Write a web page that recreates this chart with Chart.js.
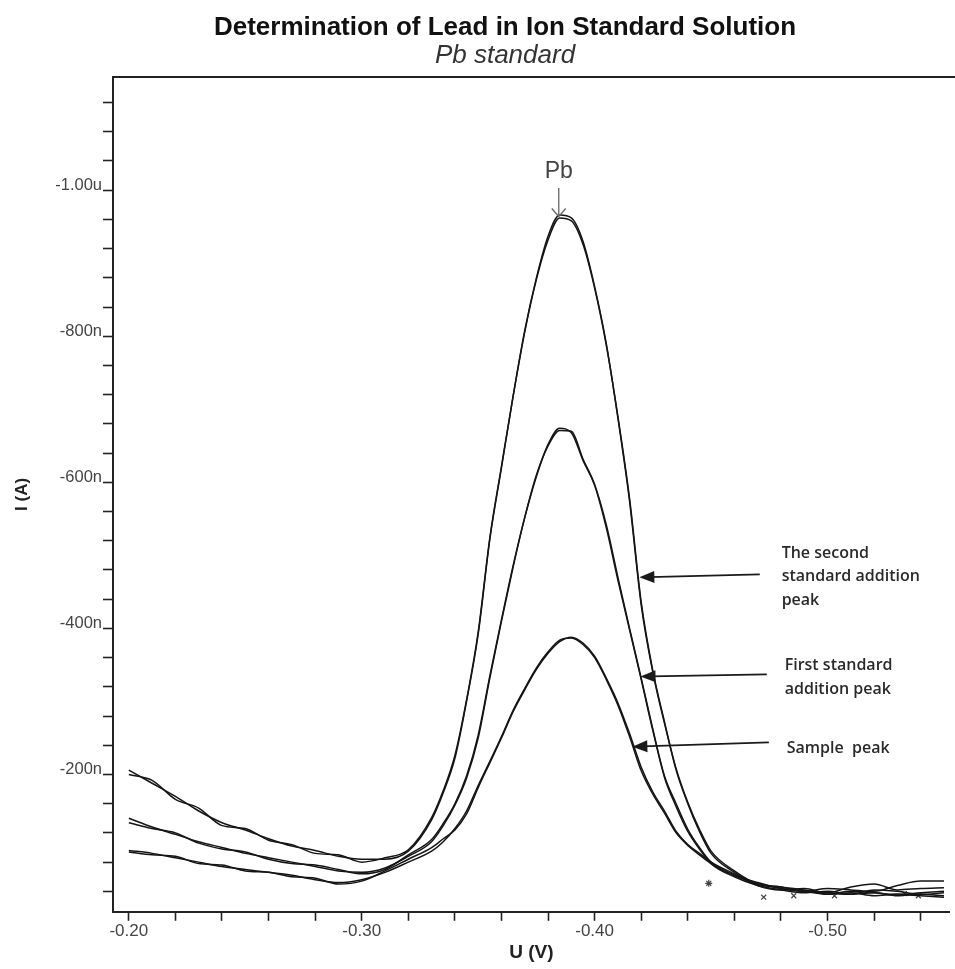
<!DOCTYPE html>
<html>
<head>
<meta charset="utf-8">
<title>Determination of Lead in Ion Standard Solution</title>
<script src="https://cdn.jsdelivr.net/npm/chart.js@4.4.1/dist/chart.umd.min.js"></script>
<style>
  html, body { margin: 0; padding: 0; background: #fff; overflow: hidden; }
</style>
</head>
<body>
<canvas id="pb-canvas" width="955" height="969"></canvas>
<script>
  // Potential axis (V), sampled finer across the Pb peak
  let voltage = [-0.20, -0.21, -0.22, -0.23, -0.24, -0.25, -0.26, -0.27, -0.28, -0.29, -0.30, -0.31, -0.32, -0.33,
    -0.335, -0.34, -0.345, -0.35, -0.355, -0.36, -0.365, -0.37, -0.375, -0.38, -0.385, -0.39, -0.395, -0.40,
    -0.405, -0.41, -0.415, -0.42, -0.425, -0.43, -0.435, -0.44, -0.445,
    -0.45, -0.46, -0.47, -0.48, -0.49, -0.50, -0.51, -0.52, -0.53, -0.54, -0.55];

  // Currents in nA (read as magnitudes, plotted negative), two runs per solution
  let second_run1 = [206, 188, 170, 150, 134, 124, 112, 102, 96, 88, 84, 84, 95, 138,
    175, 222, 300, 392, 522, 620, 718, 808, 880, 937, 966, 962, 930, 868, 790, 688, 574, 432, 340, 270, 208, 162, 125,
    95, 68, 50, 46, 40, 44, 42, 40, 48, 54, 54];
  let second_run2 = [200, 192, 166, 154, 130, 126, 110, 104, 92, 90, 80, 86, 97, 141,
    178, 226, 302, 395, 524, 622, 718, 806, 878, 932, 962, 958, 926, 866, 788, 690, 578, 436, 342, 272, 206, 160, 122,
    92, 66, 48, 42, 44, 38, 46, 50, 42, 44, 45];

  let first_run1 = [140, 128, 118, 108, 100, 92, 86, 80, 74, 68, 66, 72, 88, 108,
    130, 158, 195, 250, 332, 410, 484, 552, 610, 650, 671, 670, 632, 597, 542, 470, 400, 332, 262, 198, 160, 125, 100,
    80, 62, 50, 44, 40, 36, 40, 38, 36, 38, 40];
  let first_run2 = [134, 126, 120, 106, 98, 94, 84, 78, 76, 70, 64, 70, 90, 111,
    133, 160, 198, 254, 335, 412, 486, 552, 608, 652, 674, 668, 630, 596, 538, 466, 398, 330, 260, 196, 156, 122, 98,
    78, 60, 48, 42, 38, 40, 36, 42, 40, 36, 38];

  let sample_run1 = [96, 92, 86, 80, 74, 70, 66, 62, 56, 52, 56, 66, 80, 95,
    108, 126, 150, 185, 218, 252, 288, 318, 346, 368, 384, 387, 378, 360, 330, 295, 252, 205, 173, 147, 120, 103, 90,
    78, 62, 52, 44, 40, 38, 36, 38, 34, 36, 34];
  let sample_run2 = [94, 90, 88, 78, 76, 68, 66, 60, 58, 50, 54, 68, 84, 100,
    112, 124, 146, 182, 216, 250, 286, 316, 344, 366, 382, 388, 380, 362, 332, 298, 256, 210, 176, 150, 122, 104, 92,
    80, 64, 50, 46, 42, 36, 38, 34, 36, 34, 32];

  // Stray instrument markers on the baseline
  let star_v = [-0.449];
  let star_i = [-51];
  let cross_v = [-0.4726, -0.4855, -0.503, -0.533, -0.539];
  let cross_i = [-32, -34, -34, -37, -34];

  // Callouts (data coordinates)
  let callout_text = [["The second", "standard addition", "peak"], ["First standard", "addition peak"], ["Sample  peak"]];
  let callout_text_v = [-0.4803, -0.4816, -0.4825];
  let callout_text_i = [-503, -349, -236];
  let callout_tail_v = [-0.4709, -0.4739, -0.4748];
  let callout_tail_i = [-474, -337, -244];
  let callout_tip_v = [-0.4192, -0.4197, -0.4162];
  let callout_tip_i = [-470, -334, -238];
  let pb_v = -0.3846;
  let pb_label_i = -1025;
  let pb_arrow_i = [-1003, -964];

  let to_points = function(vals) {
    return vals.map((v, i) => ({x: voltage[i], y: -v}));
  };

  let trace = function(vals) {
    return {
      data: to_points(vals),
      borderColor: '#151515',
      borderWidth: 1.5,
      pointRadius: 0,
      fill: false,
      cubicInterpolationMode: 'monotone'
    };
  };

  let markers = function(vs, is, style) {
    return {
      data: vs.map((v, i) => ({x: v, y: is[i]})),
      showLine: false,
      pointStyle: style,
      pointRadius: 3.5,
      borderColor: '#444',
      borderWidth: 1.2,
      backgroundColor: '#444'
    };
  };

  let is_label = function(v, step) {
    let q = v / step;
    return Math.abs(q - Math.round(q)) < 1e-6;
  };

  let fmt_current = function(v) {
    if (!is_label(v, 200) || Math.round(v) === 0) return '';
    if (Math.abs(v) >= 1000) return '-' + (Math.abs(v) / 1000).toFixed(2) + 'u';
    return Math.round(v) + 'n';
  };

  let decor = {
    id: 'decor',
    afterDraw(chart) {
      let ctx = chart.ctx;
      let area = chart.chartArea;
      let xs = chart.scales.x;
      let ys = chart.scales.y;
      ctx.save();

      // top edge of the plot frame
      ctx.strokeStyle = '#222';
      ctx.lineWidth = 2;
      ctx.beginPath();
      ctx.moveTo(area.left, area.top);
      ctx.lineTo(chart.width, area.top);
      ctx.stroke();

      // titles
      ctx.textAlign = 'center';
      ctx.textBaseline = 'middle';
      ctx.fillStyle = '#111';
      ctx.font = 'bold 26px "Liberation Sans", Arial, sans-serif';
      ctx.fillText('Determination of Lead in Ion Standard Solution', 505, 28);
      ctx.fillStyle = '#333';
      ctx.font = 'italic 26px "Liberation Sans", Arial, sans-serif';
      ctx.fillText('Pb standard', 505, 56);

      // callout arrows and text
      ctx.strokeStyle = '#1a1a1a';
      ctx.fillStyle = '#1a1a1a';
      ctx.lineWidth = 1.8;
      for (let k = 0; k < callout_text.length; k++) {
        let x0 = xs.getPixelForValue(callout_tail_v[k]);
        let y0 = ys.getPixelForValue(callout_tail_i[k]);
        let x1 = xs.getPixelForValue(callout_tip_v[k]);
        let y1 = ys.getPixelForValue(callout_tip_i[k]);
        let ang = Math.atan2(y1 - y0, x1 - x0);
        ctx.beginPath();
        ctx.moveTo(x0, y0);
        ctx.lineTo(x1 - 10 * Math.cos(ang), y1 - 10 * Math.sin(ang));
        ctx.stroke();
        ctx.beginPath();
        ctx.moveTo(x1, y1);
        ctx.lineTo(x1 - 15 * Math.cos(ang) + 6 * Math.sin(ang), y1 - 15 * Math.sin(ang) - 6 * Math.cos(ang));
        ctx.lineTo(x1 - 15 * Math.cos(ang) - 6 * Math.sin(ang), y1 - 15 * Math.sin(ang) + 6 * Math.cos(ang));
        ctx.closePath();
        ctx.fill();
      }
      ctx.fillStyle = '#2a2a2a';
      ctx.textAlign = 'left';
      ctx.font = '600 16px "Open Sans", "Noto Sans", sans-serif';
      for (let k = 0; k < callout_text.length; k++) {
        let tx = xs.getPixelForValue(callout_text_v[k]);
        let ty = ys.getPixelForValue(callout_text_i[k]);
        callout_text[k].forEach((line, n) => ctx.fillText(line, tx, ty + n * 23.5));
      }

      // Pb peak marker
      let px = xs.getPixelForValue(pb_v);
      ctx.fillStyle = '#444';
      ctx.textAlign = 'center';
      ctx.font = '23px "Liberation Sans", Arial, sans-serif';
      ctx.fillText('Pb', px, ys.getPixelForValue(pb_label_i));
      let ya = ys.getPixelForValue(pb_arrow_i[0]);
      let yb = ys.getPixelForValue(pb_arrow_i[1]);
      ctx.strokeStyle = '#666';
      ctx.lineWidth = 1.3;
      ctx.beginPath();
      ctx.moveTo(px, ya);
      ctx.lineTo(px, yb);
      ctx.moveTo(px - 7, yb - 8);
      ctx.lineTo(px, yb);
      ctx.lineTo(px + 7, yb - 8);
      ctx.stroke();

      ctx.restore();
    }
  };

  let pb_ctx = document.getElementById('pb-canvas').getContext('2d');
  let pb_chart = new Chart(pb_ctx, {
    type: 'line',
    data: {
      datasets: [
        trace(second_run1), trace(second_run2),
        trace(first_run1), trace(first_run2),
        trace(sample_run1), trace(sample_run2),
        markers(star_v, star_i, 'star'),
        markers(cross_v, cross_i, 'crossRot')
      ]
    },
    options: {
      responsive: false,
      animation: false,
      layout: {padding: {left: 8, top: 77, right: 0, bottom: 2}},
      plugins: {legend: {display: false}, tooltip: {enabled: false}},
      font: {family: '"Liberation Sans", Arial, sans-serif'},
      scales: {
        x: {
          type: 'linear',
          reverse: true,
          min: -0.5525,
          max: -0.1932,
          grid: {drawOnChartArea: false, drawTicks: true, tickLength: 9, tickColor: '#222', tickWidth: 1.6},
          border: {color: '#222', width: 2},
          ticks: {
            stepSize: 0.02,
            includeBounds: false,
            autoSkip: false,
            maxRotation: 0,
            padding: 0,
            color: '#444',
            font: {size: 17, family: '"Liberation Sans", Arial, sans-serif'},
            callback: v => is_label(v, 0.1) ? v.toFixed(2) : ''
          },
          title: {
            display: true,
            text: 'U (V)',
            color: '#222',
            font: {size: 19, weight: 'bold', family: '"Liberation Sans", Arial, sans-serif'},
            padding: {top: 0, bottom: 3}
          }
        },
        y: {
          type: 'linear',
          reverse: true,
          min: -1155,
          max: -12,
          afterFit: s => { s.width = 105; },
          grid: {drawOnChartArea: false, drawTicks: true, tickLength: 10, tickColor: '#222', tickWidth: 1.6},
          border: {color: '#222', width: 2},
          ticks: {
            stepSize: 40,
            includeBounds: false,
            autoSkip: false,
            labelOffset: -5,
            padding: 1,
            color: '#444',
            font: {size: 16.5, family: '"Liberation Sans", Arial, sans-serif'},
            callback: fmt_current
          },
          title: {
            display: true,
            text: 'I (A)',
            color: '#222',
            font: {size: 17, weight: 'bold', family: '"Liberation Sans", Arial, sans-serif'},
            padding: {top: 4, bottom: 4}
          }
        }
      }
    },
    plugins: [decor]
  });
</script>
</body>
</html>
